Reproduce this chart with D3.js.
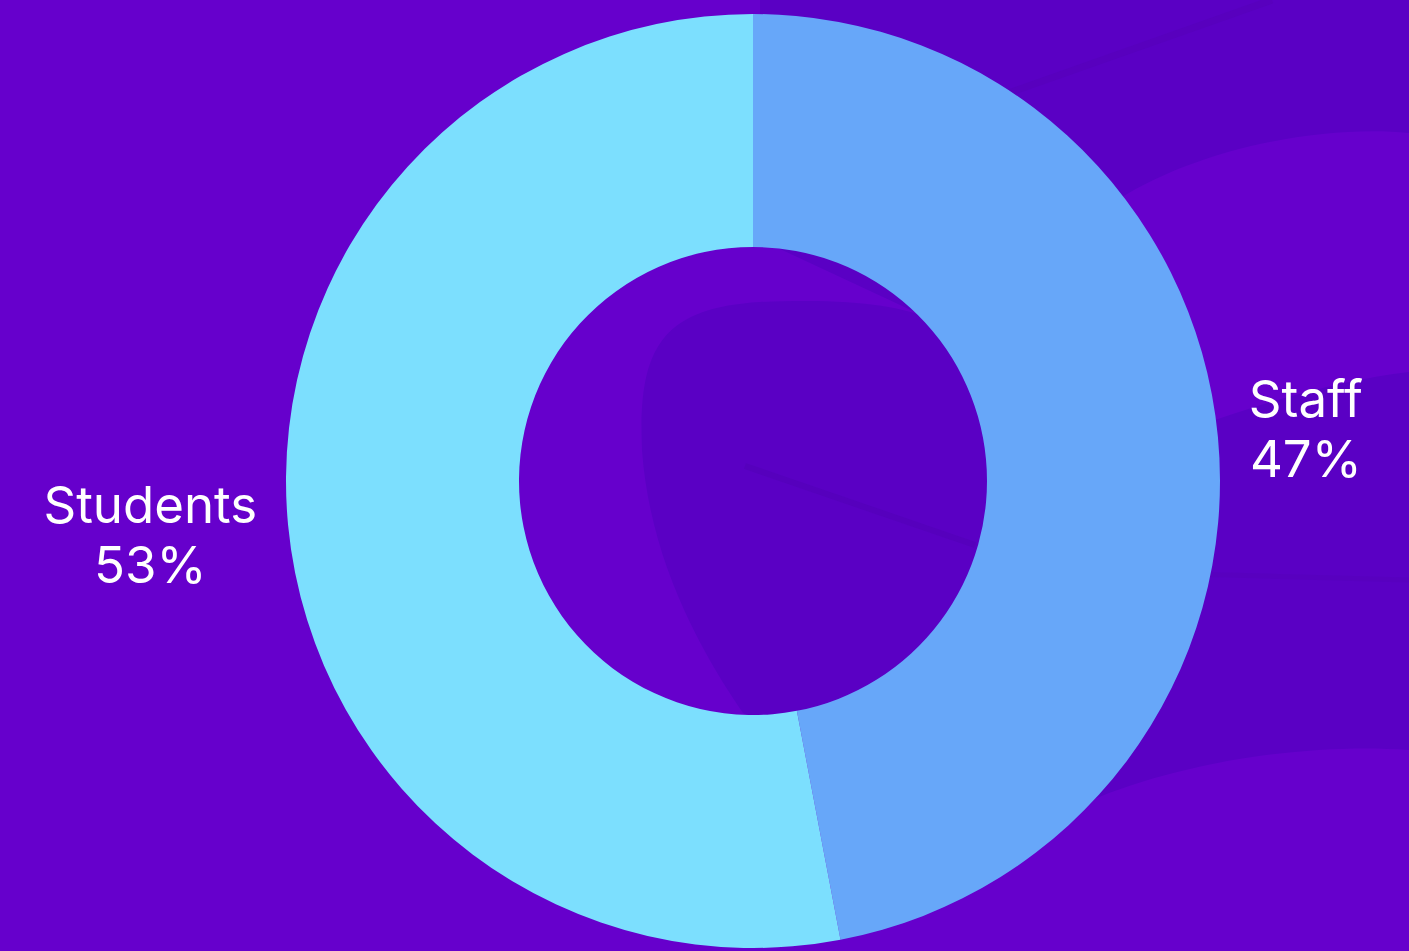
<!DOCTYPE html>
<html>
<head>
<meta charset="utf-8">
<script src="https://cdn.jsdelivr.net/npm/d3@7"></script>
<style>
  html, body { margin: 0; padding: 0; background: #6600cc; overflow: hidden; }
  svg { display: block; }
</style>
</head>
<body>
<svg id="chart" width="1409" height="951"></svg>
<script>
// Share of respondents by group
const categories = ["Staff", "Students"];
const shares = [47, 53];
const shareLabels = ["47%", "53%"];
const sliceColors = ["#67a7f9", "#7cdffe"];

const width = 1409, height = 951;
const cx = 753, cy = 481;
const outerR = 467, innerR = 234;

const svg = d3.select("#chart");

// Backdrop: flat violet with a few soft darker shapes behind the ring
const bg = svg.append("g");
bg.append("rect").attr("width", width).attr("height", height).attr("fill", "#6600cc");
bg.append("path")
  .attr("fill", "#5a00c4")
  .attr("d", "M760,0 L1409,0 L1409,750 C1300,742 1150,765 1050,820 L760,722 L743,713 " +
             "C700,650 650,560 642,450 C638,350 660,308 760,302 C850,298 900,306 928,318 " +
             "L780,249 L760,120 Z");
// lighter lobe on the upper right
bg.append("path")
  .attr("fill", "#6600cc")
  .attr("d", "M1409,133 C1320,124 1190,150 1110,205 L1160,440 C1250,405 1340,380 1409,372 Z");
// faint streaks
bg.append("path").attr("d", "M1000,96 L1272,0").attr("stroke", "#5500b8").attr("stroke-width", 7).attr("stroke-opacity", 0.5).attr("fill", "none");
bg.append("path").attr("d", "M745,466 L975,545").attr("stroke", "#5200b6").attr("stroke-width", 6).attr("stroke-opacity", 0.5).attr("fill", "none");
bg.append("path").attr("d", "M1190,574 L1409,580").attr("stroke", "#5400ba").attr("stroke-width", 5).attr("stroke-opacity", 0.4).attr("fill", "none");

// Donut
const pie = d3.pie().sort(null).value(d => d)(shares);
const arc = d3.arc().innerRadius(innerR).outerRadius(outerR);
const colour = d3.scaleOrdinal().domain(categories).range(sliceColors);

const g = svg.append("g").attr("transform", `translate(${cx},${cy})`);
g.selectAll("path.slice")
  .data(pie)
  .join("path")
  .attr("class", "slice")
  .attr("d", arc)
  .attr("fill", (d, i) => colour(categories[i]));

// Labels outside the ring, anchored toward the slice's mid-angle
const labelEdgeR = 498, labelYR = 560;
const fontSize = 51, lineGap = 60;
const labels = svg.append("g")
  .attr("font-family", "Inter, 'Noto Sans', sans-serif")
  .attr("font-weight", 400)
  .attr("font-size", fontSize)
  .attr("fill", "#ffffff");

pie.forEach((d, i) => {
  const mid = (d.startAngle + d.endAngle) / 2;
  const sx = Math.sin(mid), sy = -Math.cos(mid);
  const edgeX = cx + labelEdgeR * sx;
  const midY = cy + labelYR * sy;
  const lines = [categories[i], shareLabels[i]];
  const texts = lines.map((s, k) => labels.append("text")
    .attr("text-anchor", "middle")
    .attr("y", midY - 11 + k * lineGap)
    .text(s));
  const w = d3.max(texts, t => t.node().getComputedTextLength());
  const centerX = sx >= 0 ? edgeX + w / 2 : edgeX - w / 2;
  texts.forEach(t => t.attr("x", centerX));
});
</script>
</body>
</html>
